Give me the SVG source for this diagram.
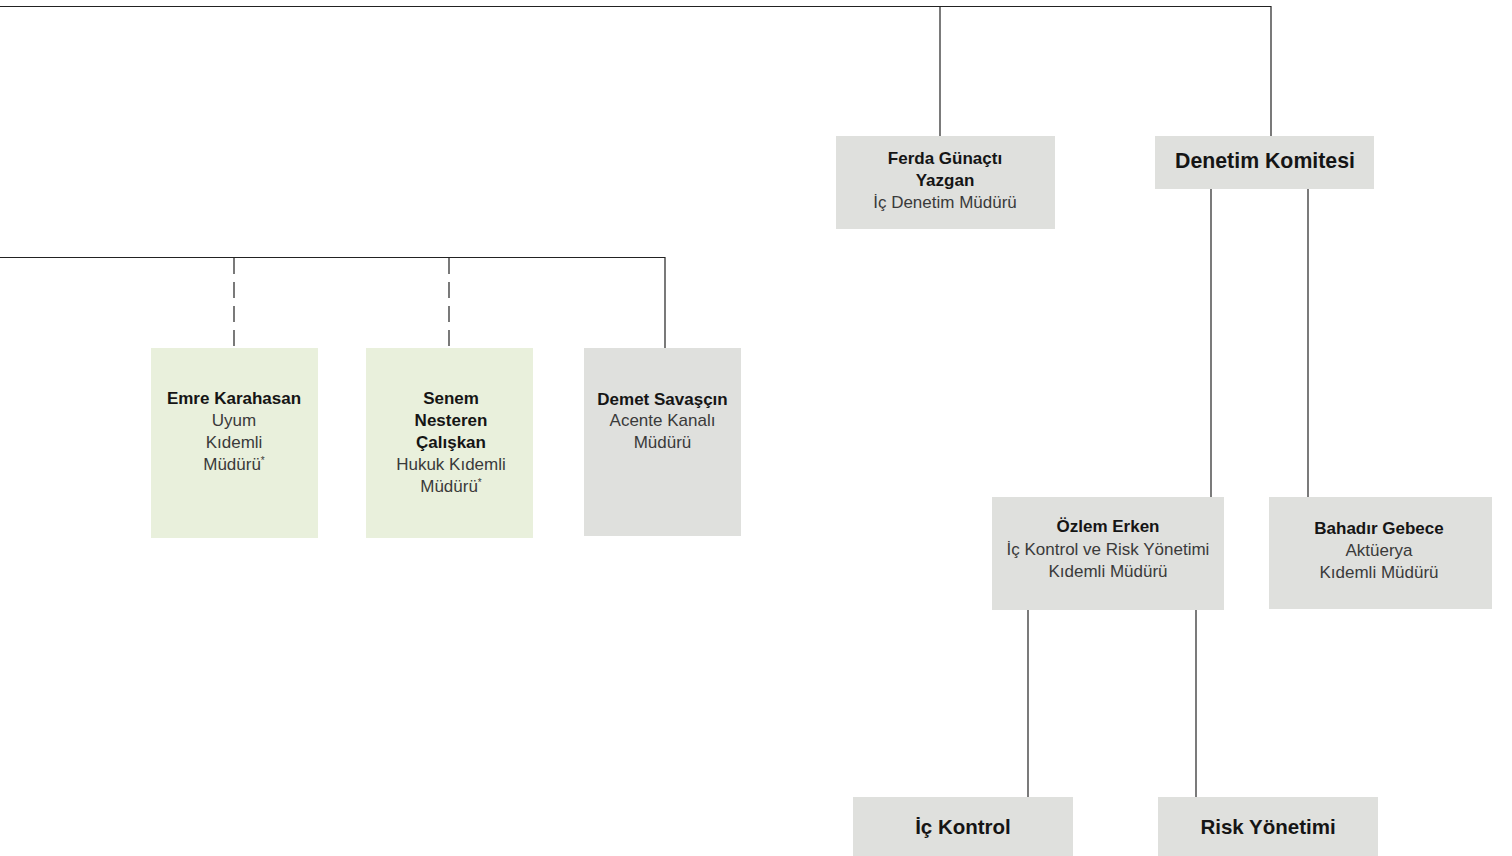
<svg xmlns="http://www.w3.org/2000/svg" width="1512" height="856" viewBox="0 0 1512 856">
<style>
.bg{fill:#ffffff}
.gray{fill:#dfe0dd}
.green{fill:#e9f0dc}
.ln{stroke:#222222;stroke-width:1.2;fill:none}
.dash{stroke:#222222;stroke-width:1.2;fill:none;stroke-dasharray:16 8}
text{font-family:"Liberation Sans",Arial,sans-serif;text-anchor:middle}
.b{font-weight:bold;font-size:17px;fill:#151515}
.r{font-size:17px;fill:#3a3a3a}
.big{font-weight:bold;font-size:20.5px;fill:#151515}
.big2{font-weight:bold;font-size:21.3px;fill:#151515}
.sup{font-size:10px}
</style>
<rect class="bg" x="0" y="0" width="1512" height="856"/>
<g id="connectors">
<path class="ln" d="M0 6.5 H1271 V136"/>
<path class="ln" d="M940 6.5 V136"/>
<path class="ln" d="M1211 189 V497"/>
<path class="ln" d="M1308 189 V497"/>
<path class="ln" d="M1028 610 V797"/>
<path class="ln" d="M1196 610 V797"/>
<path class="ln" d="M0 257.5 H665 V348"/>
<path class="dash" d="M234 258 V346"/>
<path class="dash" d="M449 258 V346"/>
</g>
<g id="ferda">
<rect class="gray" x="836" y="136" width="219" height="93"/>
<text class="b" x="945" y="164">Ferda Günaçtı</text>
<text class="b" x="945" y="186">Yazgan</text>
<text class="r" x="945" y="208">İç Denetim Müdürü</text>
</g>
<g id="denetim">
<rect class="gray" x="1155" y="136" width="219" height="53"/>
<text class="big2" x="1265" y="167.5">Denetim Komitesi</text>
</g>
<g id="ozlem">
<rect class="gray" x="992" y="497" width="232" height="113"/>
<text class="b" x="1108" y="532">Özlem Erken</text>
<text class="r" x="1108" y="555">İç Kontrol ve Risk Yönetimi</text>
<text class="r" x="1108" y="577">Kıdemli Müdürü</text>
</g>
<g id="bahadir">
<rect class="gray" x="1269" y="497" width="223" height="112"/>
<text class="b" x="1379" y="534">Bahadır Gebece</text>
<text class="r" x="1379" y="556">Aktüerya</text>
<text class="r" x="1379" y="578">Kıdemli Müdürü</text>
</g>
<g id="ic-kontrol">
<rect class="gray" x="853" y="797" width="220" height="59"/>
<text class="big" x="963" y="834">İç Kontrol</text>
</g>
<g id="risk">
<rect class="gray" x="1158" y="797" width="220" height="59"/>
<text class="big" x="1268" y="834">Risk Yönetimi</text>
</g>
<g id="emre">
<rect class="green" x="151" y="348" width="167" height="190"/>
<text class="b" x="234" y="404">Emre Karahasan</text>
<text class="r" x="234" y="426">Uyum</text>
<text class="r" x="234" y="448">Kıdemli</text>
<text class="r" x="234" y="470">Müdürü<tspan class="sup" dy="-6">*</tspan></text>
</g>
<g id="senem">
<rect class="green" x="366" y="348" width="167" height="190"/>
<text class="b" x="451" y="404">Senem</text>
<text class="b" x="451" y="426">Nesteren</text>
<text class="b" x="451" y="448">Çalışkan</text>
<text class="r" x="451" y="470">Hukuk Kıdemli</text>
<text class="r" x="451" y="492">Müdürü<tspan class="sup" dy="-6">*</tspan></text>
</g>
<g id="demet">
<rect class="gray" x="584" y="348" width="157" height="188"/>
<text class="b" x="662.5" y="405">Demet Savaşçın</text>
<text class="r" x="662.5" y="426">Acente Kanalı</text>
<text class="r" x="662.5" y="448">Müdürü</text>
</g>
</svg>
